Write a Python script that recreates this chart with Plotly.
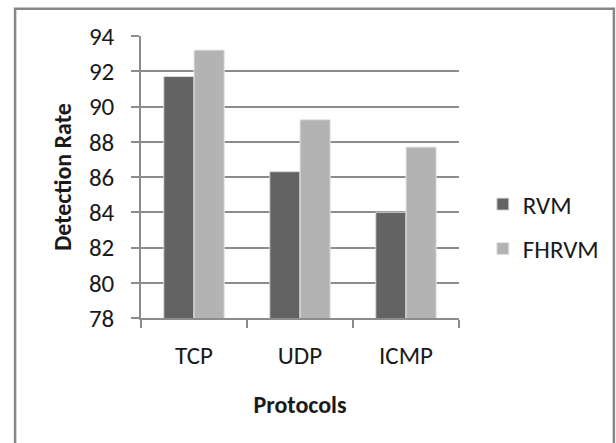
import plotly.graph_objects as go

categories = ["TCP", "UDP", "ICMP"]
rvm = [91.7, 86.3, 84.0]
fhrvm = [93.2, 89.25, 87.7]
y_ticks = [78, 80, 82, 84, 86, 88, 90, 92, 94]

FONT = "Carlito, Lato, 'Open Sans', sans-serif"
FS = 24
TFS = 25

fig = go.Figure()
fig.add_trace(go.Bar(
    x=categories, y=rvm, name="RVM", legendgroup="a",
    marker=dict(color="#636363", line=dict(color="#d9d9d9", width=1)),
))
fig.add_trace(go.Bar(
    x=categories, y=fhrvm, name="FHRVM", legendgroup="b",
    marker=dict(color="#b3b3b3", line=dict(color="#e6e6e6", width=1)),
))

fig.update_layout(
    width=616, height=443,
    margin=dict(l=141, r=157, t=36, b=125, autoexpand=False),
    paper_bgcolor="white", plot_bgcolor="white",
    font=dict(family=FONT, size=FS, color="#1a1a1a"),
    barmode="group", bargap=0.43, bargroupgap=0,
    showlegend=True,
    legend=dict(
        x=1.075, y=0.325, xanchor="left", yanchor="middle",
        font=dict(family=FONT, size=TFS, color="#1a1a1a"),
        tracegroupgap=9, itemwidth=30, bgcolor="rgba(0,0,0,0)",
    ),
    xaxis=dict(
        title=dict(text="<b>Protocols</b>", font=dict(family=FONT, size=FS, color="#1a1a1a"), standoff=26),
        showline=True, linecolor="#8c8c8c", linewidth=1.5,
        ticks="outside", tickson="boundaries", ticklen=8, tickcolor="#8c8c8c", tickwidth=1.5,
        ticklabelstandoff=14, tickfont=dict(size=TFS),
        showgrid=False,
    ),
    yaxis=dict(
        title=dict(text="<b>Detection Rate</b>", font=dict(family=FONT, size=FS, color="#1a1a1a"), standoff=11),
        range=[78, 94], tickvals=y_ticks, tickfont=dict(size=TFS),
        showgrid=True, gridcolor="#8c8c8c", gridwidth=1.5,
        showline=True, linecolor="#8c8c8c", linewidth=1.5,
        ticks="outside", ticklen=8, tickcolor="#8c8c8c", tickwidth=1.5,
        ticklabelstandoff=12, zeroline=False,
    ),
    shapes=[dict(
        type="rect", xref="paper", yref="paper",
        x0=-0.396, x1=1.487, y0=-0.48, y1=1.097,
        line=dict(color="#868686", width=2.5), fillcolor="rgba(0,0,0,0)", layer="below",
    )],
)

fig.write_html("out.html")
